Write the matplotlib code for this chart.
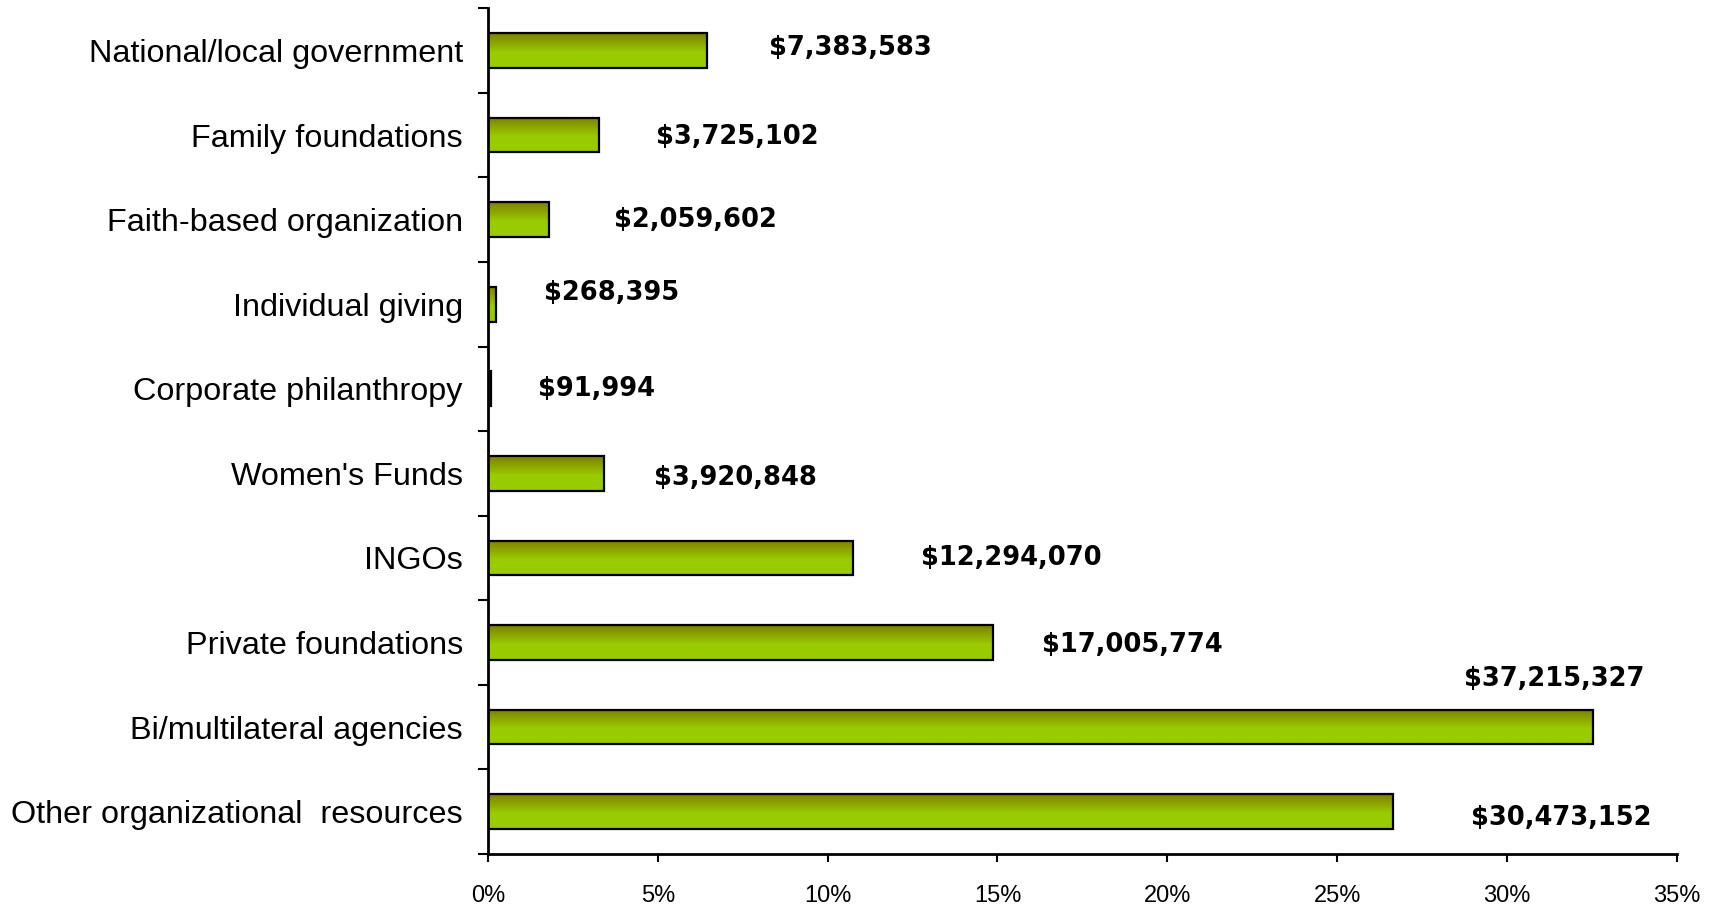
from matplotlib import pyplot as plt
from matplotlib.colors import LinearSegmentedColormap
import numpy as np

categories = ['National/local government', 'Family foundations', 'Faith-based organization',
              'Individual giving', 'Corporate philanthropy', "Women's Funds", 'INGOs',
              'Private foundations', 'Bi/multilateral agencies', 'Other organizational  resources']
share_pct = [6.45, 3.26, 1.80, 0.23, 0.08, 3.43, 10.74, 14.86, 32.52, 26.63]
amounts = ['$7,383,583', '$3,725,102', '$2,059,602', '$268,395', '$91,994', '$3,920,848',
           '$12,294,070', '$17,005,774', '$37,215,327', '$30,473,152']

# where the amount labels sit (left edge in %, vertical shift in category units)
label_x = [8.27, 4.95, 3.71, 1.65, 1.47, 4.89, 12.75, 16.31, 28.73, 28.94]
label_dy = [-0.03, 0.02, 0.0, -0.13, 0.0, 0.05, 0.0, 0.03, -0.57, 0.08]

plt.rcParams['font.family'] = ['Liberation Sans', 'DejaVu Sans']

fig = plt.figure(figsize=(17.15, 9.09), dpi=100)
ax = fig.add_axes([0.2845, 0.0605, 0.6933, 0.9305])

grad = LinearSegmentedColormap.from_list('olive', [(0, '#7f7f00'), (0.55, '#99cc00'), (1, '#99cc00')])
g = np.linspace(0, 1, 64).reshape(-1, 1)

h = 0.41
y = np.arange(len(categories))
for yi, w in zip(y, share_pct):
    ax.imshow(g, cmap=grad, aspect='auto', origin='upper',
              extent=(0, w, yi + h / 2, yi - h / 2), zorder=2, interpolation='bilinear')
ax.barh(y, share_pct, height=h, facecolor='none', edgecolor='black', linewidth=1.6, zorder=3)

for yi, lx, dy, txt in zip(y, label_x, label_dy, amounts):
    ax.text(lx, yi + dy, txt, ha='left', va='center', fontsize=18.5, fontweight='bold',
            family='DejaVu Sans')

ax.set_xlim(0, 35)
ax.set_ylim(len(categories) - 0.5, -0.5)

ax.set_xticks(np.arange(0, 36, 5))
ax.set_xticklabels([f'{v}%' for v in range(0, 36, 5)], fontsize=17)
ax.set_yticks(y)
ax.set_yticklabels(categories, fontsize=23.3)
ax.set_yticks(np.arange(-0.5, len(categories), 1), minor=True)

ax.tick_params(axis='y', which='major', length=0, pad=18)
ax.tick_params(axis='y', which='minor', length=7, width=1.5, direction='out')
ax.tick_params(axis='x', length=6, width=1.5, direction='out', pad=16)

for s in ['top', 'right']:
    ax.spines[s].set_visible(False)
for s in ['left', 'bottom']:
    ax.spines[s].set_linewidth(2)

fig.savefig('out.png', dpi=100)
